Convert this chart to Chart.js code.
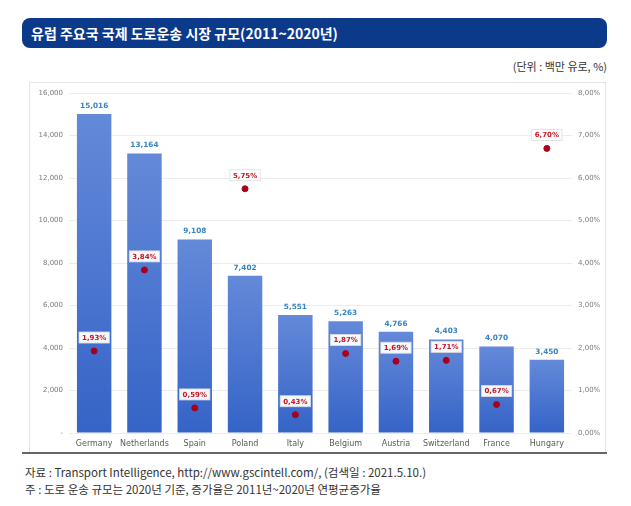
<!DOCTYPE html>
<html>
<head>
<meta charset="utf-8">
<script src="https://cdn.jsdelivr.net/npm/chart.js@4.4.1/dist/chart.umd.min.js"></script>
<style>
  body { margin: 0; width: 631px; height: 506px; background: #fff; position: relative; overflow: hidden;
         font-family: "Noto Sans CJK KR", "Noto Sans", sans-serif; }
  .title { position: absolute; left: 22px; top: 18px; width: 585px; height: 30px; background: #0c3a8b;
           border-radius: 8px; color: #fff; font-size: 14px; font-weight: bold; line-height: 30px;
           padding-left: 9px; box-sizing: border-box; }
  .unit { position: absolute; right: 24px; top: 58px; font-size: 11px; color: #333; }
  .frame { position: absolute; left: 29px; top: 82px; width: 575px; height: 369px; border: 1px solid #e4e4e4; }
  .frame canvas { display: block; }
  .rule { position: absolute; left: 22px; top: 452px; width: 585px; height: 2px; background: #666; }
  .note { position: absolute; left: 25px; font-size: 11.5px; color: #333; white-space: nowrap; }
</style>
</head>
<body>
<div class="title">유럽 주요국 국제 도로운송 시장 규모(2011~2020년)</div>
<div class="unit">(단위 : 백만 유로, %)</div>
<div class="frame"><canvas id="chart" width="575" height="369"></canvas></div>
<div class="rule"></div>
<div class="note" style="top:464px">자료 : Transport Intelligence, http://www.gscintell.com/, (검색일 : 2021.5.10.)</div>
<div class="note" style="top:481px">주 : 도로 운송 규모는 2020년 기준, 증가율은 2011년~2020년 연평균증가율</div>

<script>
const countries = ['Germany', 'Netherlands', 'Spain', 'Poland', 'Italy', 'Belgium', 'Austria', 'Switzerland', 'France', 'Hungary'];
const marketSize = [15016, 13164, 9108, 7402, 5551, 5263, 4766, 4403, 4070, 3450];
const growthRate = [1.93, 3.84, 0.59, 5.75, 0.43, 1.87, 1.69, 1.71, 0.67, 6.70];
const leftTicks = ['-', '2,000', '4,000', '6,000', '8,000', '10,000', '12,000', '14,000', '16,000'];
const rightTicks = ['0,00%', '1,00%', '2,00%', '3,00%', '4,00%', '5,00%', '6,00%', '7,00%', '8,00%'];

const fmtNum = v => v.toLocaleString('en-US');
const fmtPct = v => v.toFixed(2).replace('.', ',') + '%';

// draws the value boxes above bars and points
const valueLabels = {
    id: 'valueLabels',
    afterDatasetsDraw(chart) {
        const ctx = chart.ctx;
        ctx.save();
        ctx.textAlign = 'center';
        ctx.textBaseline = 'middle';

        const bars = chart.getDatasetMeta(0).data;
        ctx.font = 'bold 7.3px "DejaVu Sans"';
        ctx.fillStyle = '#3484c6';
        bars.forEach((bar, i) => {
            ctx.fillText(fmtNum(marketSize[i]), bar.x, bar.y - 8);
        });

        ctx.font = 'bold 7px "DejaVu Sans"';
        const points = chart.getDatasetMeta(1).data;
        points.forEach((pt, i) => {
            const txt = fmtPct(growthRate[i]);
            const w = ctx.measureText(txt).width + 6;
            const h = 11;
            const cy = pt.y - 13.5;
            ctx.fillStyle = 'rgba(255,255,255,0.95)';
            ctx.fillRect(pt.x - w / 2, cy - h / 2, w, h);
            ctx.strokeStyle = '#dcdcdc';
            ctx.lineWidth = 0.8;
            ctx.strokeRect(pt.x - w / 2, cy - h / 2, w, h);
            ctx.fillStyle = '#c8161e';
            ctx.fillText(txt, pt.x, cy + 0.5);
        });
        ctx.restore();
    }
};

const barFill = (context) => {
    const chart = context.chart;
    const area = chart.chartArea;
    if (!area || context.dataIndex === undefined) return '#4472c4';
    const top = chart.scales.y.getPixelForValue(marketSize[context.dataIndex]);
    const g = chart.ctx.createLinearGradient(0, top, 0, area.bottom);
    g.addColorStop(0, '#6489d9');
    g.addColorStop(1, '#3564c7');
    return g;
};

new Chart(document.getElementById('chart'), {
    type: 'bar',
    data: {
        labels: countries,
        datasets: [
            {
                label: '시장 규모',
                data: marketSize,
                yAxisID: 'y',
                backgroundColor: barFill,
                borderWidth: 0,
                barPercentage: 0.685,
                categoryPercentage: 1,
                order: 2,
            },
            {
                type: 'line',
                label: '증가율',
                data: growthRate,
                yAxisID: 'y1',
                showLine: false,
                pointRadius: 3,
                pointBackgroundColor: '#a8001c',
                pointBorderColor: '#a8001c',
                order: 1,
            }
        ]
    },
    options: {
        responsive: false,
        animation: false,
        layout: { padding: { top: 8.5, left: 0, right: 0, bottom: 0 } },
        scales: {
            x: {
                grid: { display: false, drawTicks: false },
                border: { display: false },
                ticks: {
                    color: '#595959',
                    font: { family: 'DejaVu Sans', size: 8 },
                    padding: 6,
                    maxRotation: 0,
                    minRotation: 0,
                    autoSkip: false,
                },
                afterFit: s => { s.height = 19; },
            },
            y: {
                position: 'left',
                min: 0,
                max: 16000,
                border: { display: false },
                grid: { color: '#ececec', drawTicks: false },
                ticks: {
                    stepSize: 2000,
                    color: '#7a7a7a',
                    padding: 6,
                    font: { family: 'DejaVu Sans', size: 7 },
                    callback: (v, i) => leftTicks[i],
                },
                afterFit: s => { s.width = 39; },
            },
            y1: {
                position: 'right',
                min: 0,
                max: 8,
                border: { display: false },
                grid: { display: false, drawTicks: false },
                ticks: {
                    stepSize: 1,
                    color: '#7a7a7a',
                    padding: 6,
                    font: { family: 'DejaVu Sans', size: 7 },
                    callback: (v, i) => rightTicks[i],
                },
                afterFit: s => { s.width = 33; },
            },
        },
        plugins: {
            legend: { display: false },
            tooltip: { enabled: false },
        }
    },
    plugins: [valueLabels]
});
</script>
</body>
</html>
